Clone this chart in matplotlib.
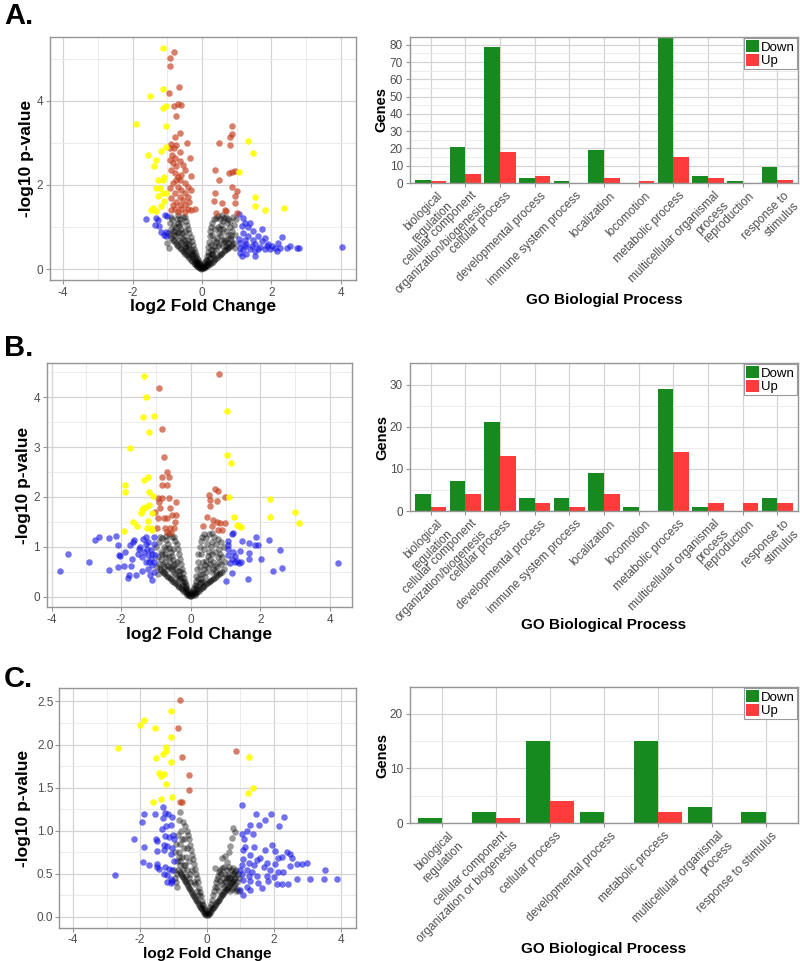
import matplotlib
matplotlib.use("Agg")
import matplotlib.pyplot as plt
import matplotlib.transforms as mtransforms
from matplotlib.patches import Patch
from matplotlib.ticker import FormatStrFormatter

plt.rcParams["font.family"] = ["Liberation Sans", "DejaVu Sans"]
plt.rcParams["axes.unicode_minus"] = False

# ---- volcano data (log2 fold change, -log10 p-value) ----
A_BLACK = [(-0.02, 0.01), (-0.04, 0.03), (-0.06, 0.02), (-0.03, 0.06), (-0.08, 0.05), (-0.05, 0.09), (-0.10, 0.04),
           (-0.11, 0.09), (-0.07, 0.12), (-0.13, 0.07), (-0.14, 0.13), (-0.09, 0.17), (-0.16, 0.10), (-0.18, 0.16),
           (-0.12, 0.21), (-0.20, 0.12), (-0.21, 0.21), (-0.15, 0.26), (-0.24, 0.15), (-0.25, 0.27), (-0.18, 0.33),
           (-0.28, 0.19), (-0.29, 0.33), (-0.21, 0.40), (-0.32, 0.22), (-0.33, 0.40), (-0.24, 0.48), (-0.36, 0.26),
           (-0.37, 0.47), (-0.27, 0.57), (-0.40, 0.30), (-0.41, 0.55), (-0.30, 0.66), (-0.44, 0.33), (-0.45, 0.62),
           (-0.33, 0.76), (-0.48, 0.37), (-0.49, 0.70), (-0.36, 0.86), (-0.52, 0.40), (-0.53, 0.78), (-0.39, 0.96),
           (-0.56, 0.44), (-0.57, 0.86), (-0.42, 1.06), (-0.60, 0.47), (-0.61, 0.95), (-0.45, 1.15), (-0.64, 0.50),
           (-0.65, 1.03), (-0.48, 1.24), (-0.68, 0.54), (-0.69, 1.10), (-0.72, 0.58), (-0.73, 1.18), (-0.76, 0.62),
           (-0.77, 0.90), (-0.80, 0.66), (-0.81, 1.05), (-0.84, 0.70), (-0.85, 1.20), (-0.88, 0.75), (-0.89, 0.95),
           (-0.92, 0.80), (-0.93, 1.10), (-0.96, 0.50), (-0.97, 0.85), (-1.00, 0.62), (-0.55, 1.25), (-0.62, 1.20),
           (-0.70, 1.28), (-0.35, 0.35), (-0.45, 0.45), (-0.55, 0.60), (-0.65, 0.70), (-0.75, 0.78), (-0.50, 0.55),
           (-0.60, 0.65), (-0.70, 0.85), (-0.80, 0.80), (-0.40, 0.70), (-0.50, 0.90), (-0.60, 1.10), (-0.30, 0.45),
           (-0.38, 0.60), (-0.47, 0.50), (-0.58, 0.75), (-0.66, 0.88), (-0.74, 1.00), (-0.83, 0.90), (-0.90, 1.25),
           (-0.25, 0.35), (-0.20, 0.28), (-0.15, 0.18), (-0.10, 0.14),
           (0.02, 0.02), (0.04, 0.05), (0.06, 0.03), (0.03, 0.08), (0.08, 0.07), (0.10, 0.04), (0.06, 0.12),
           (0.12, 0.10), (0.09, 0.16), (0.14, 0.07), (0.16, 0.14), (0.11, 0.22), (0.18, 0.10), (0.20, 0.20),
           (0.14, 0.30), (0.22, 0.12), (0.24, 0.27), (0.16, 0.40), (0.27, 0.15), (0.28, 0.36), (0.18, 0.52),
           (0.31, 0.18), (0.32, 0.45), (0.20, 0.65), (0.35, 0.21), (0.36, 0.55), (0.22, 0.78), (0.39, 0.24),
           (0.40, 0.65), (0.24, 0.90), (0.43, 0.27), (0.44, 0.75), (0.27, 1.00), (0.47, 0.30), (0.48, 0.85),
           (0.30, 1.10), (0.51, 0.33), (0.52, 0.95), (0.34, 1.18), (0.55, 0.36), (0.56, 1.05), (0.40, 1.22),
           (0.59, 0.39), (0.60, 1.15), (0.46, 1.26), (0.63, 0.42), (0.64, 0.70), (0.52, 1.20), (0.67, 0.45),
           (0.68, 0.90), (0.58, 1.28), (0.71, 0.48), (0.72, 1.10), (0.64, 1.22), (0.75, 0.50), (0.76, 0.80),
           (0.70, 1.25), (0.79, 0.53), (0.80, 1.00), (0.76, 1.20), (0.83, 0.56), (0.84, 0.70), (0.82, 1.15),
           (0.87, 0.60), (0.88, 0.90), (0.90, 1.25), (0.91, 0.63), (0.92, 1.05), (0.95, 0.50), (0.96, 0.80),
           (0.98, 1.20), (0.25, 0.45), (0.30, 0.35), (0.35, 0.70), (0.40, 0.45), (0.45, 0.55), (0.50, 0.60),
           (0.55, 0.70), (0.60, 0.55), (0.65, 0.65), (0.70, 0.70), (0.75, 0.62), (0.80, 0.75), (0.85, 0.80),
           (0.30, 0.80), (0.38, 0.95), (0.46, 1.00), (0.54, 0.80), (0.62, 0.95), (0.70, 0.55), (0.15, 0.22),
           (0.20, 0.33), (0.26, 0.58), (0.33, 0.30)]
A_BLUE = [(-1.62, 1.20), (-1.32, 1.22), (-1.27, 1.16), (-1.36, 1.05), (-1.24, 1.02), (-1.17, 0.88), (-1.03, 0.87),
          (-1.03, 0.79), (-1.07, 1.28), (-1.00, 1.27), (-1.10, 0.82),
          (1.07, 1.30), (1.19, 1.22), (1.24, 1.10), (1.38, 1.09), (1.15, 1.02), (1.33, 0.99), (1.72, 0.96),
          (1.48, 0.90), (1.19, 0.86), (1.33, 0.79), (1.62, 0.79), (1.82, 0.75), (1.07, 0.71), (1.24, 0.70),
          (1.48, 0.70), (1.72, 0.67), (2.30, 0.76), (1.11, 0.61), (1.28, 0.59), (1.52, 0.59), (1.91, 0.59),
          (2.20, 0.62), (2.01, 0.56), (2.54, 0.56), (2.44, 0.51), (2.73, 0.51), (2.79, 0.51), (4.03, 0.53),
          (1.09, 0.51), (1.19, 0.47), (1.38, 0.47), (1.62, 0.47), (1.82, 0.47), (2.11, 0.50), (1.11, 0.39),
          (1.28, 0.37), (1.52, 0.43), (1.96, 0.47), (1.15, 0.31), (2.25, 0.51), (1.67, 0.53), (1.43, 0.56),
          (1.87, 0.55), (2.15, 0.43), (1.24, 0.55), (1.52, 0.31)]
A_RED = [(-0.82, 5.17), (-0.93, 5.02), (-0.93, 4.83), (-0.66, 4.33), (-0.96, 4.18), (-0.69, 3.92), (-0.60, 3.90),
         (-0.82, 3.87), (-0.74, 3.63), (-0.64, 3.23), (-0.79, 3.13), (-0.42, 3.01), (-0.88, 2.97), (-0.74, 2.94),
         (-0.93, 2.87), (-0.81, 2.87), (-0.64, 2.79), (-0.86, 2.72), (-0.79, 2.63), (-0.93, 2.59), (-0.64, 2.56),
         (-0.83, 2.52), (-0.35, 2.63), (-0.55, 2.48), (-0.74, 2.44), (-0.88, 2.36), (-0.50, 2.36), (-0.79, 2.28),
         (-0.69, 2.20), (-0.60, 2.24), (-0.33, 2.22), (-0.74, 2.12), (-0.64, 2.12), (-0.50, 2.04), (-0.83, 2.04),
         (-0.40, 1.96), (-0.69, 1.96), (-0.93, 1.92), (-0.60, 1.88), (-0.31, 1.88), (-0.79, 1.80), (-0.50, 1.80),
         (-0.64, 1.72), (-0.40, 1.72), (-0.88, 1.68), (-0.55, 1.64), (-0.74, 1.60), (-0.36, 1.60), (-0.64, 1.52),
         (-0.50, 1.52), (-0.83, 1.52), (-0.21, 1.44), (-0.40, 1.44), (-0.60, 1.44), (-0.79, 1.44), (-0.31, 1.40),
         (-0.88, 1.40), (-0.69, 1.36), (-0.50, 1.36),
         (0.86, 3.40), (0.87, 3.22), (0.81, 3.13), (0.49, 2.99), (0.81, 2.96), (0.37, 2.35), (0.95, 2.34),
         (0.86, 2.30), (0.79, 2.28), (0.49, 2.11), (0.87, 1.96), (0.37, 1.82), (1.02, 1.85), (0.95, 1.74),
         (0.35, 1.62), (0.57, 1.56), (0.95, 1.56), (0.69, 1.38), (0.41, 1.34), (1.02, 1.34), (0.66, 1.40)]
A_YELLOW = [(-1.13, 5.27), (-1.51, 4.12), (-1.13, 4.29), (-1.13, 3.84), (-1.03, 3.88), (-1.89, 3.45), (-1.03, 3.41),
            (-1.56, 2.71), (-1.17, 2.80), (-1.32, 2.60), (-1.37, 2.44), (-1.03, 2.91), (-1.27, 2.12), (-1.13, 2.12),
            (-1.32, 1.92), (-1.22, 1.92), (-1.13, 1.80), (-1.27, 1.73), (-1.03, 1.80), (-1.41, 1.45), (-1.46, 1.41),
            (-1.32, 1.37), (-1.08, 1.61), (-1.17, 1.49), (-1.08, 2.20),
            (1.33, 3.05), (1.47, 2.76), (1.07, 2.32), (1.52, 1.71), (1.52, 1.51), (1.81, 1.41), (2.37, 1.45)]

B_BLACK = [(-0.02, 0.02), (-0.05, 0.04), (-0.03, 0.07), (-0.08, 0.06), (-0.10, 0.03), (-0.07, 0.11), (-0.12, 0.08),
           (-0.14, 0.12), (-0.10, 0.16), (-0.17, 0.09), (-0.18, 0.17), (-0.13, 0.23), (-0.21, 0.12), (-0.22, 0.24),
           (-0.16, 0.30), (-0.25, 0.15), (-0.26, 0.30), (-0.19, 0.38), (-0.29, 0.18), (-0.30, 0.37), (-0.22, 0.47),
           (-0.33, 0.20), (-0.34, 0.44), (-0.25, 0.56), (-0.37, 0.22), (-0.38, 0.51), (-0.28, 0.66), (-0.41, 0.25),
           (-0.42, 0.58), (-0.31, 0.76), (-0.45, 0.27), (-0.46, 0.66), (-0.34, 0.86), (-0.49, 0.30), (-0.50, 0.74),
           (-0.37, 0.96), (-0.53, 0.32), (-0.54, 0.82), (-0.40, 1.05), (-0.57, 0.35), (-0.58, 0.90), (-0.44, 1.12),
           (-0.61, 0.37), (-0.62, 0.98), (-0.48, 1.20), (-0.65, 0.40), (-0.66, 1.06), (-0.69, 0.42), (-0.70, 1.14),
           (-0.73, 0.45), (-0.74, 0.85), (-0.77, 0.48), (-0.78, 1.00), (-0.81, 0.50), (-0.82, 1.18), (-0.85, 0.53),
           (-0.86, 0.90), (-0.89, 0.56), (-0.90, 1.10), (-0.93, 0.45), (-0.94, 0.80), (-0.97, 0.60), (-0.99, 1.00),
           (-0.55, 1.20), (-0.63, 1.25), (-0.72, 1.22), (-0.35, 0.35), (-0.45, 0.45), (-0.55, 0.55), (-0.65, 0.62),
           (-0.75, 0.70), (-0.85, 0.75), (-0.50, 0.50), (-0.60, 0.70), (-0.70, 0.80), (-0.80, 0.65), (-0.40, 0.70),
           (-0.50, 0.95), (-0.60, 0.60), (-0.30, 0.52), (-0.40, 0.40), (-0.52, 0.62), (-0.62, 0.80), (-0.72, 0.95),
           (-0.82, 0.85), (-0.92, 0.65), (-0.25, 0.40), (-0.20, 0.30), (-0.15, 0.20), (-0.68, 0.55), (-0.78, 0.60),
           (-0.88, 1.20),
           (0.02, 0.02), (0.04, 0.05), (0.07, 0.03), (0.03, 0.09), (0.09, 0.07), (0.11, 0.04), (0.07, 0.13),
           (0.13, 0.10), (0.10, 0.18), (0.15, 0.07), (0.17, 0.15), (0.12, 0.24), (0.19, 0.10), (0.21, 0.21),
           (0.14, 0.32), (0.23, 0.12), (0.25, 0.28), (0.16, 0.42), (0.27, 0.15), (0.29, 0.36), (0.18, 0.55),
           (0.31, 0.17), (0.33, 0.45), (0.20, 0.70), (0.35, 0.20), (0.37, 0.55), (0.22, 0.85), (0.39, 0.22),
           (0.41, 0.63), (0.25, 1.00), (0.43, 0.25), (0.45, 0.72), (0.28, 1.12), (0.47, 0.27), (0.49, 0.82),
           (0.32, 1.20), (0.51, 0.30), (0.53, 0.90), (0.38, 1.25), (0.55, 0.32), (0.57, 1.00), (0.45, 1.18),
           (0.59, 0.34), (0.61, 1.10), (0.52, 1.25), (0.63, 0.36), (0.65, 0.70), (0.60, 1.27), (0.67, 0.38),
           (0.69, 0.90), (0.68, 1.20), (0.71, 0.40), (0.73, 1.05), (0.75, 0.43), (0.77, 0.80), (0.78, 1.15),
           (0.80, 0.45), (0.82, 0.95), (0.84, 0.47), (0.86, 0.65), (0.88, 1.10), (0.89, 0.50), (0.91, 0.80),
           (0.94, 0.55), (0.96, 1.00), (0.98, 0.70), (0.25, 0.45), (0.30, 0.30), (0.35, 0.70), (0.40, 0.40),
           (0.45, 0.50), (0.50, 0.60), (0.55, 0.65), (0.60, 0.50), (0.65, 0.55), (0.70, 0.62), (0.75, 0.60),
           (0.80, 0.70), (0.85, 0.85), (0.30, 0.85), (0.38, 0.95), (0.46, 1.05), (0.54, 0.75), (0.62, 0.85),
           (0.72, 0.50), (0.15, 0.22), (0.20, 0.35), (0.27, 0.60), (0.34, 0.30)]
B_BLUE = [(-3.76, 0.51), (-3.53, 0.85), (-2.92, 0.70), (-2.75, 1.14), (-2.64, 1.20), (-2.35, 1.18), (-2.15, 1.21),
          (-2.35, 0.54), (-2.10, 0.60), (-2.10, 1.03), (-2.06, 0.83), (-2.02, 0.82), (-1.89, 0.90), (-1.93, 0.62),
          (-1.81, 0.38), (-1.77, 0.43), (-1.70, 0.76), (-1.72, 0.62), (-1.65, 1.10), (-1.62, 1.13), (-1.76, 1.03),
          (-1.57, 0.44), (-1.52, 0.86), (-1.50, 0.96), (-1.41, 0.51), (-1.36, 1.16), (-1.30, 1.20), (-1.29, 1.06),
          (-1.26, 0.96), (-1.22, 0.84), (-1.30, 0.70), (-1.14, 0.76), (-1.10, 0.63), (-1.17, 0.43), (-1.12, 0.33),
          (-1.07, 0.49), (-1.03, 0.83), (-1.22, 1.10), (-1.07, 1.20), (-1.14, 0.93), (-1.24, 0.56), (-1.05, 0.70),
          (-1.40, 0.80), (-1.45, 0.99), (-1.34, 0.90), (-1.20, 0.70), (-1.12, 0.86), (-1.06, 1.06),
          (1.22, 1.27), (1.18, 1.25), (1.08, 1.12), (1.07, 1.04), (1.47, 1.11), (1.66, 1.08), (1.87, 1.20),
          (1.85, 1.04), (1.93, 1.03), (2.25, 1.14), (2.55, 0.94), (1.22, 0.90), (1.41, 0.91), (1.67, 0.88),
          (1.06, 0.83), (1.27, 0.82), (1.32, 0.72), (1.14, 0.68), (1.38, 0.68), (1.43, 0.70), (1.67, 0.76),
          (2.01, 0.76), (1.18, 0.48), (2.35, 0.51), (2.61, 0.58), (1.64, 0.35), (1.02, 0.32), (4.24, 0.68),
          (1.08, 0.96), (1.18, 0.76), (1.27, 0.70)]
B_RED = [(-0.92, 4.18), (-0.84, 3.36), (-0.77, 2.80), (-0.69, 2.50), (-0.83, 2.40), (-0.62, 2.40), (-0.83, 2.24),
         (-0.68, 2.24), (-0.93, 1.98), (-0.83, 1.98), (-0.62, 1.98), (-0.91, 1.90), (-0.42, 1.90), (-0.89, 1.77),
         (-0.60, 1.77), (-1.03, 1.70), (-0.55, 1.63), (-0.69, 1.58), (-0.42, 1.63), (-0.93, 1.58), (-0.77, 1.58),
         (-0.45, 1.50), (-0.98, 1.37), (-0.75, 1.38), (-0.60, 1.37), (-0.47, 1.37), (-0.68, 1.30), (-0.56, 1.28),
         (0.82, 4.46), (0.70, 2.16), (0.79, 2.12), (0.51, 2.04), (0.75, 1.92), (0.56, 1.94), (0.56, 1.82),
         (0.97, 2.00), (0.46, 1.60), (0.65, 1.53), (0.75, 1.50), (0.85, 1.47), (0.97, 1.47), (0.60, 1.42),
         (0.36, 1.42), (0.79, 1.33), (0.90, 1.33)]
B_YELLOW = [(-1.33, 4.42), (-1.28, 4.01), (-1.36, 3.61), (-1.05, 3.63), (-1.19, 3.31), (-1.74, 2.99), (-1.89, 2.24),
            (-1.89, 2.10), (-1.22, 2.40), (-1.33, 2.34), (-1.19, 2.09), (-1.09, 2.02), (-1.28, 1.79), (-1.36, 1.77),
            (-1.40, 1.73), (-1.42, 1.67), (-1.19, 1.84), (-1.12, 1.67), (-1.67, 1.49), (-1.55, 1.41), (-1.26, 1.38),
            (-1.15, 1.37), (-1.93, 1.32), (-1.10, 1.33), (-1.22, 1.52),
            (1.03, 3.72), (1.03, 2.84), (1.15, 2.68), (1.09, 2.00), (2.28, 1.96), (3.00, 1.69), (3.12, 1.47),
            (2.28, 1.60), (1.25, 1.60), (1.32, 1.43), (1.44, 1.39), (1.38, 1.41)]

C_BLACK = [(-0.02, 0.02), (-0.04, 0.05), (-0.06, 0.03), (-0.05, 0.08), (-0.09, 0.05), (-0.08, 0.10), (-0.12, 0.07),
           (-0.11, 0.14), (-0.15, 0.09), (-0.14, 0.19), (-0.18, 0.10), (-0.17, 0.24), (-0.21, 0.12), (-0.20, 0.29),
           (-0.24, 0.14), (-0.23, 0.34), (-0.27, 0.16), (-0.26, 0.40), (-0.30, 0.18), (-0.29, 0.45), (-0.33, 0.20),
           (-0.32, 0.50), (-0.36, 0.22), (-0.35, 0.56), (-0.39, 0.24), (-0.38, 0.62), (-0.42, 0.26), (-0.41, 0.67),
           (-0.45, 0.28), (-0.44, 0.72), (-0.48, 0.30), (-0.47, 0.78), (-0.51, 0.32), (-0.50, 0.84), (-0.54, 0.34),
           (-0.53, 0.90), (-0.57, 0.36), (-0.56, 0.95), (-0.60, 0.38), (-0.59, 1.00), (-0.63, 0.40), (-0.62, 0.70),
           (-0.66, 0.42), (-0.65, 1.05), (-0.69, 0.44), (-0.68, 0.80), (-0.72, 0.46), (-0.71, 1.10), (-0.75, 0.48),
           (-0.74, 0.90), (-0.78, 0.50), (-0.77, 1.00), (-0.80, 1.22), (-0.81, 0.52), (-0.83, 0.75), (-0.84, 1.12),
           (-0.87, 0.55), (-0.88, 0.95), (-0.90, 0.35), (-0.91, 0.65), (-0.93, 0.85), (-0.95, 0.45), (-0.97, 0.75),
           (-0.99, 0.55), (-0.30, 0.30), (-0.40, 0.40), (-0.50, 0.50), (-0.60, 0.55), (-0.70, 0.60), (-0.80, 0.65),
           (-0.45, 0.55), (-0.55, 0.65), (-0.65, 0.60), (-0.75, 0.70), (-0.85, 0.70), (-0.35, 0.38), (-0.25, 0.25),
           (-0.15, 0.15), (-0.50, 0.40), (-0.60, 0.80), (-0.70, 0.90), (-0.80, 0.85), (-0.90, 0.50), (-0.62, 0.48),
           (-0.72, 0.55), (-0.82, 0.60), (-0.92, 0.40), (-0.55, 0.45),
           (0.02, 0.02), (0.04, 0.05), (0.06, 0.03), (0.05, 0.08), (0.09, 0.05), (0.08, 0.11), (0.12, 0.07),
           (0.11, 0.15), (0.15, 0.09), (0.14, 0.20), (0.18, 0.10), (0.17, 0.25), (0.21, 0.12), (0.20, 0.30),
           (0.24, 0.14), (0.23, 0.35), (0.27, 0.15), (0.26, 0.40), (0.30, 0.17), (0.29, 0.44), (0.33, 0.19),
           (0.32, 0.48), (0.36, 0.20), (0.35, 0.52), (0.39, 0.22), (0.38, 0.55), (0.42, 0.24), (0.41, 0.50),
           (0.45, 0.25), (0.44, 0.57), (0.48, 0.27), (0.47, 0.45), (0.51, 0.29), (0.50, 0.58), (0.54, 0.30),
           (0.53, 0.50), (0.57, 0.32), (0.56, 0.42), (0.60, 0.33), (0.59, 0.55), (0.63, 0.35), (0.62, 0.48),
           (0.66, 0.36), (0.65, 0.58), (0.69, 0.38), (0.68, 0.45), (0.72, 0.39), (0.71, 0.55), (0.75, 0.41),
           (0.74, 0.50), (0.78, 0.42), (0.77, 0.57), (0.81, 0.44), (0.80, 0.35), (0.84, 0.45), (0.83, 0.52),
           (0.87, 0.30), (0.86, 0.55), (0.90, 0.40), (0.92, 0.50), (0.95, 0.30), (0.97, 0.45), (0.24, 0.57),
           (0.44, 0.68), (0.54, 0.71), (0.60, 0.64), (0.74, 0.92), (0.79, 1.03), (0.84, 0.98), (0.66, 0.75),
           (0.70, 0.82), (0.35, 0.30), (0.45, 0.38), (0.55, 0.40), (0.65, 0.45), (0.75, 0.33), (0.85, 0.38),
           (0.30, 0.35), (0.40, 0.42), (0.50, 0.35), (0.60, 0.45), (0.70, 0.30), (0.80, 0.50), (0.90, 0.33)]
C_BLUE = [(-2.76, 0.49), (-2.19, 0.91), (-1.87, 1.20), (-1.56, 1.20), (-1.94, 1.10), (-1.87, 0.81), (-1.91, 0.64),
          (-1.74, 0.60), (-1.31, 1.28), (-1.24, 1.21), (-1.17, 1.20), (-1.04, 1.16), (-1.31, 1.15), (-1.09, 1.07),
          (-1.21, 1.05), (-1.33, 1.02), (-1.02, 0.95), (-1.24, 0.94), (-1.14, 0.93), (-1.53, 0.90), (-1.48, 0.88),
          (-1.29, 0.84), (-1.19, 0.82), (-1.04, 0.80), (-1.48, 0.77), (-1.27, 0.78), (-1.09, 0.73), (-1.48, 0.61),
          (-1.50, 0.58), (-1.44, 0.56), (-1.24, 0.58), (-1.14, 0.56), (-1.04, 0.54), (-1.29, 0.50), (-1.19, 0.49),
          (-1.09, 0.44), (-1.19, 0.41), (-1.04, 0.42), (-1.09, 0.39), (-0.99, 0.65), (-0.99, 0.90),
          (1.04, 1.30), (1.45, 1.20), (1.91, 1.19), (2.30, 1.16), (1.28, 1.07), (1.56, 1.07), (2.15, 1.06),
          (1.73, 1.12), (1.04, 0.96), (1.36, 0.96), (1.11, 0.90), (1.13, 0.81), (1.40, 0.81), (1.95, 0.83),
          (1.09, 0.78), (1.73, 0.78), (2.03, 0.77), (2.40, 0.75), (2.48, 0.73), (2.53, 0.68), (2.13, 0.68),
          (1.59, 0.68), (2.23, 0.70), (2.68, 0.61), (2.83, 0.62), (2.98, 0.63), (2.48, 0.59), (2.03, 0.61),
          (3.52, 0.55), (1.09, 0.67), (1.24, 0.63), (1.40, 0.60), (1.70, 0.58), (1.89, 0.54), (2.13, 0.52),
          (2.28, 0.52), (1.04, 0.50), (1.24, 0.48), (1.49, 0.48), (1.79, 0.48), (2.01, 0.46), (2.70, 0.44),
          (3.09, 0.44), (3.49, 0.44), (3.87, 0.44), (1.09, 0.43), (1.28, 0.42), (1.53, 0.39), (1.83, 0.42),
          (2.08, 0.38), (2.23, 0.38), (2.43, 0.38), (1.18, 0.35), (1.63, 0.34), (0.99, 0.31), (1.09, 0.25),
          (1.28, 0.31), (0.99, 0.55), (1.04, 0.60), (1.18, 0.54), (1.33, 0.52), (1.28, 0.72), (1.49, 0.66),
          (1.79, 0.63), (1.18, 1.00)]
C_RED = [(-0.82, 2.52), (-0.88, 2.19), (-0.76, 1.86), (-0.55, 1.65), (-0.55, 1.47), (-0.82, 1.33), (-0.76, 1.33),
         (0.87, 1.93)]
C_YELLOW = [(-1.07, 2.39), (-1.89, 2.28), (-2.01, 2.23), (-1.56, 2.19), (-1.07, 2.09), (-2.66, 1.96), (-1.21, 1.97),
            (-1.21, 1.92), (-1.31, 1.89), (-1.52, 1.84), (-1.07, 1.80), (-1.44, 1.67), (-1.29, 1.66), (-1.36, 1.64),
            (-1.21, 1.54), (-1.05, 1.39), (-1.36, 1.37), (-1.60, 1.33),
            (1.26, 1.85), (1.38, 1.50), (1.21, 1.44)]

# ---- GO biological process counts ----
GO_CATS = ["biological\nregulation", "cellular component\norganization/biogenesis", "cellular process",
           "developmental process", "immune system process", "localization", "locomotion",
           "metabolic process", "multicellular organismal\nprocess", "reproduction", "response to\nstimulus"]
GO_CATS_C = ["biological\nregulation", "cellular component\norganization or biogenesis", "cellular process",
             "developmental process", "metabolic process", "multicellular organismal\nprocess",
             "response to stimulus"]
A_DOWN = [2, 21, 79, 3, 1, 19, 0, 84, 4, 1, 9]
A_UP = [1, 5, 18, 4, 0, 3, 1, 15, 3, 0, 2]
B_DOWN = [4, 7, 21, 3, 3, 9, 1, 29, 1, 0, 3]
B_UP = [1, 4, 13, 2, 1, 4, 0, 14, 2, 2, 2]
C_DOWN = [1, 2, 15, 2, 15, 3, 2]
C_UP = [0, 1, 4, 0, 2, 0, 0]

GREEN = "#168a1e"
RED = "#ff3b3b"
FRAME = "#959595"
TICKTXT = "#4d4d4d"


def style(ax, pad=2):
    ax.set_axisbelow(True)
    ax.grid(which="major", color="#d4d4d4", linewidth=0.9)
    ax.grid(which="minor", color="#e8e8e8", linewidth=0.6)
    for sp in ax.spines.values():
        sp.set_color(FRAME)
        sp.set_linewidth(1.0)
    ax.tick_params(which="major", length=3, color=FRAME, labelcolor=TICKTXT, labelsize=8.5, pad=pad)
    ax.tick_params(which="minor", length=0)


def place_labels(ax, xl_y, yl_x):
    # both labels centred on the given axes-fraction coordinate
    ax.xaxis.label.set_va("center")
    ax.yaxis.label.set_va("center")
    ax.xaxis.set_label_coords(0.5, xl_y)
    ax.yaxis.set_label_coords(yl_x, 0.5)


def volcano(ax, black, blue, red, yellow, xlim, ylim, ymajor, yminor, fmt=None, xl_size=12.5, pad=2):
    layers = [(black, "black", 0.4), (blue, "#1212e6", 0.6), (red, "#c43a18", 0.65), (yellow, "#ffff00", 0.9)]
    for pts, color, alpha in layers:
        xs, ys = zip(*pts)
        ax.scatter(xs, ys, s=22, color=color, alpha=alpha, linewidths=0)
    ax.set_xlim(xlim)
    ax.set_ylim(ylim)
    ax.set_xticks([-4, -2, 0, 2, 4])
    ax.set_xticks([-3, -1, 1, 3], minor=True)
    ax.set_yticks(ymajor)
    ax.set_yticks(yminor, minor=True)
    if fmt:
        ax.yaxis.set_major_formatter(FormatStrFormatter(fmt))
    style(ax, pad)
    ax.set_xlabel("log2 Fold Change", fontsize=xl_size, fontweight="bold")
    ax.set_ylabel("-log10 p-value", fontsize=12.5, fontweight="bold")


def bars(ax, cats, down, up, ymax, ymajor, yminor, xlabel):
    x = list(range(len(cats)))
    ax.bar([i - 0.225 for i in x], down, width=0.45, color=GREEN)
    ax.bar([i + 0.225 for i in x], up, width=0.45, color=RED)
    ax.set_xlim(-0.6, len(cats) - 0.4)
    ax.set_ylim(0, ymax)
    ax.set_yticks(ymajor)
    ax.set_yticks(yminor, minor=True)
    ax.set_xticks(x)
    ax.set_xticklabels(cats, rotation=45, ha="right", va="top", rotation_mode="anchor",
                       multialignment="right", fontsize=8.5)
    style(ax)
    shift = mtransforms.ScaledTranslation(4 / 72, 0, ax.figure.dpi_scale_trans)
    for lab in ax.get_xticklabels():
        lab.set_transform(lab.get_transform() + shift)
    ax.set_ylabel("Genes", fontsize=10.5, fontweight="bold")
    ax.set_xlabel(xlabel, fontsize=11, fontweight="bold")
    handles = [Patch(facecolor=GREEN), Patch(facecolor=RED)]
    leg = ax.legend(handles, ["Down", "Up"], loc="upper right", fontsize=9.5, fancybox=False,
                    edgecolor="#999999", framealpha=1, borderpad=0.15, handlelength=1.0,
                    handleheight=1.0, handletextpad=0.15, labelspacing=0.0, borderaxespad=0.1)
    leg.get_frame().set_linewidth(0.8)


W, H = 800, 961
fig = plt.figure(figsize=(W / 100, H / 100), dpi=100)


def add_axes(x0, y0, x1, y1):
    return fig.add_axes([x0 / W, 1 - y1 / H, (x1 - x0) / W, (y1 - y0) / H])


axA = add_axes(50, 37, 356, 280)
volcano(axA, A_BLACK, A_BLUE, A_RED, A_YELLOW, (-4.38, 4.44), (-0.26, 5.52), [0, 2, 4], [1, 3, 5])
place_labels(axA, -0.107, -0.078)
axA2 = add_axes(410, 37, 798, 183)
bars(axA2, GO_CATS, A_DOWN, A_UP, 84.5, range(0, 81, 10), range(5, 85, 10), "GO Biologial Process")
place_labels(axA2, -0.80, -0.074)

axB = add_axes(47, 363, 352, 607)
volcano(axB, B_BLACK, B_BLUE, B_RED, B_YELLOW, (-4.13, 4.63), (-0.21, 4.69), [0, 1, 2, 3, 4],
        [0.5, 1.5, 2.5, 3.5, 4.5])
place_labels(axB, -0.111, -0.076)
axB2 = add_axes(410, 363, 798, 511)
bars(axB2, GO_CATS, B_DOWN, B_UP, 35.1, [0, 10, 20, 30], [5, 15, 25, 35], "GO Biological Process")
place_labels(axB2, -0.77, -0.072)

axC = add_axes(59, 688, 356, 928)
volcano(axC, C_BLACK, C_BLUE, C_RED, C_YELLOW, (-4.42, 4.45), (-0.128, 2.656),
        [0, 0.5, 1.0, 1.5, 2.0, 2.5], [0.25, 0.75, 1.25, 1.75, 2.25], fmt="%.1f", xl_size=11, pad=1)
place_labels(axC, -0.108, -0.118)
axC2 = add_axes(410, 687, 798, 823)
bars(axC2, GO_CATS_C, C_DOWN, C_UP, 24.9, [0, 10, 20], [5, 15], "GO Biological Process")
place_labels(axC2, -0.925, -0.072)

for label, ytop in [("A.", 2), ("B.", 334), ("C.", 665)]:
    fig.text(4 / W, 1 - ytop / H, label, fontsize=21, fontweight="bold", va="top", ha="left")

fig.savefig("out.png", dpi=100)
